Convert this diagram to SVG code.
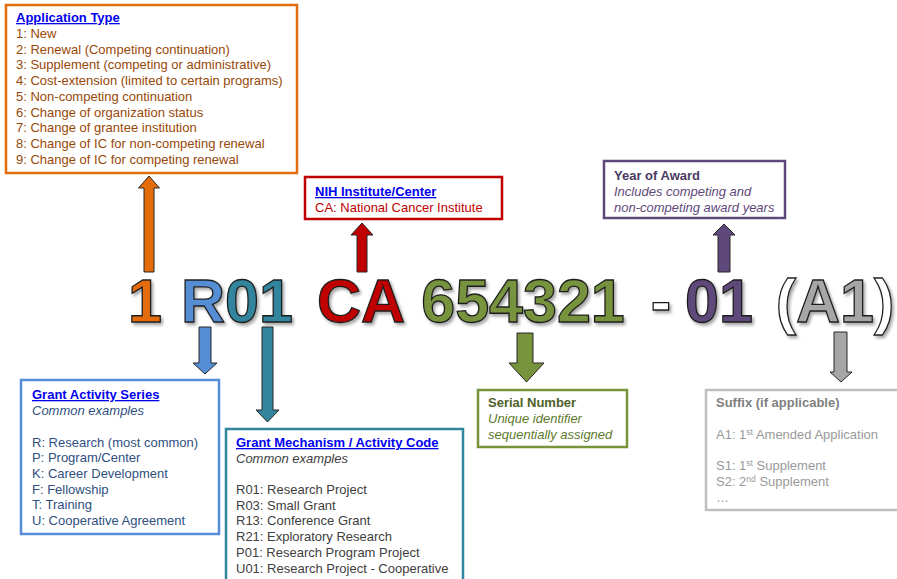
<svg xmlns="http://www.w3.org/2000/svg" width="897" height="579" viewBox="0 0 897 579">
<defs>
<filter id="sh" x="-10%" y="-10%" width="130%" height="140%">
<feDropShadow dx="2" dy="2.5" stdDeviation="1.5" flood-color="#000" flood-opacity="0.35"/>
</filter>
</defs>
<style>
text{font-family:"Liberation Sans",Arial,sans-serif;font-size:13px}
.box{fill:#fff;stroke-width:2.5}
.ttl{font-weight:bold;fill:#0000EE;text-decoration:underline}
.big{font-size:61px;font-weight:bold;stroke:#1f1f1f;stroke-width:1.3;text-anchor:middle}
.arr{stroke:#262626;stroke-width:1}
.it{font-style:italic}
</style>
<rect width="897" height="579" fill="#fff"/>

<g id="code" filter="url(#sh)">
<text class="big" x="145" y="322" fill="#E46C0A">1</text>
<text class="big" x="237" y="322"><tspan fill="#558ED5">R</tspan><tspan fill="#31859C">01</tspan></text>
<text class="big" x="361" y="322" fill="#C00000">CA</text>
<text class="big" x="523" y="322" fill="#77933C">654321</text>
<text class="big" x="661" y="322" fill="#fff">-</text>
<text class="big" x="719" y="322" fill="#5F497A">01</text>
<text class="big" x="835" y="322"><tspan fill="#fff">(</tspan><tspan fill="#A6A6A6">A1</tspan><tspan fill="#fff">)</tspan></text>
</g>

<g id="connectors">
<path class="arr" fill="#E46C0A" d="M149,176 L159.5,188 L154,188 L154,272 L144,272 L144,188 L138.5,188 Z"/>
<path class="arr" fill="#C00000" d="M362,223 L373,235 L367,235 L367,272 L357,272 L357,235 L351,235 Z"/>
<path class="arr" fill="#5F497A" d="M724,224 L735,235 L730,235 L730,272 L718,272 L718,235 L713,235 Z"/>
<path class="arr" fill="#558ED5" d="M205,374 L217,363 L211,363 L211,327 L199,327 L199,363 L193,363 Z"/>
<path class="arr" fill="#31859C" d="M267.5,422 L279,410 L273,410 L273,327 L262,327 L262,410 L256,410 Z"/>
<path class="arr" fill="#77933C" d="M526.5,382 L544,363 L533,363 L533,333 L517,333 L517,363 L509,363 Z"/>
<path class="arr" fill="#A6A6A6" d="M841,382 L852,372 L847,372 L847,332 L834,332 L834,372 L830,372 Z"/>
</g>

<g id="app-type">
<rect class="box" x="6" y="5" width="291" height="168" stroke="#E46C0A"/>
<text class="ttl" x="16" y="22">Application Type</text>
<g fill="#984807">
<text x="16" y="38">1: New</text>
<text x="16" y="53.7">2: Renewal (Competing continuation)</text>
<text x="16" y="69.4">3: Supplement (competing or administrative)</text>
<text x="16" y="85.1">4: Cost-extension (limited to certain programs)</text>
<text x="16" y="100.8">5: Non-competing continuation</text>
<text x="16" y="116.5">6: Change of organization status</text>
<text x="16" y="132.2">7: Change of grantee institution</text>
<text x="16" y="147.9">8: Change of IC for non-competing renewal</text>
<text x="16" y="163.6">9: Change of IC for competing renewal</text>
</g>
</g>

<g id="nih-ic">
<rect class="box" x="305" y="177" width="197" height="42" stroke="#C00000"/>
<text class="ttl" x="315" y="196">NIH Institute/Center</text>
<text x="315" y="212" fill="#C00000">CA: National Cancer Institute</text>
</g>

<g id="year">
<rect class="box" x="604" y="161" width="181" height="57" stroke="#5F497A"/>
<text x="614" y="180" font-weight="bold" fill="#4B3B63">Year of Award</text>
<text class="it" x="614" y="196" fill="#5F497A">Includes competing and</text>
<text class="it" x="614" y="212" fill="#5F497A">non-competing award years</text>
</g>

<g id="activity-series">
<rect class="box" x="21" y="380" width="198" height="154" stroke="#558ED5"/>
<text class="ttl" x="32" y="399">Grant Activity Series</text>
<g fill="#2F4F7F">
<text class="it" x="32" y="415">Common examples</text>
<text x="32" y="446.5">R: Research (most common)</text>
<text x="32" y="462.2">P: Program/Center</text>
<text x="32" y="477.9">K: Career Development</text>
<text x="32" y="493.6">F: Fellowship</text>
<text x="32" y="509.3">T: Training</text>
<text x="32" y="525">U: Cooperative Agreement</text>
</g>
</g>

<g id="mechanism">
<rect class="box" x="226" y="429" width="237" height="160" stroke="#31859C"/>
<text class="ttl" x="236" y="447">Grant Mechanism / Activity Code</text>
<g fill="#404040">
<text class="it" x="236" y="463">Common examples</text>
<text x="236" y="494">R01: Research Project</text>
<text x="236" y="509.7">R03: Small Grant</text>
<text x="236" y="525.4">R13: Conference Grant</text>
<text x="236" y="541.1">R21: Exploratory Research</text>
<text x="236" y="556.8">P01: Research Program Project</text>
<text x="236" y="572.5">U01: Research Project - Cooperative</text>
</g>
</g>

<g id="serial">
<rect class="box" x="478" y="390" width="149" height="57" stroke="#77933C"/>
<text x="488" y="407" font-weight="bold" fill="#4F6228">Serial Number</text>
<text class="it" x="488" y="423" fill="#5E7A2C">Unique identifier</text>
<text class="it" x="488" y="439" fill="#5E7A2C">sequentially assigned</text>
</g>

<g id="suffix">
<rect class="box" x="706" y="390" width="200" height="120" stroke="#BFBFBF"/>
<g fill="#9A9A9A">
<text x="716" y="407" font-weight="bold" fill="#808080">Suffix (if applicable)</text>
<text x="716" y="439">A1: 1<tspan font-size="8.5" dy="-4">st</tspan><tspan dy="4"> Amended Application</tspan></text>
<text x="716" y="470">S1: 1<tspan font-size="8.5" dy="-4">st</tspan><tspan dy="4"> Supplement</tspan></text>
<text x="716" y="486">S2: 2<tspan font-size="8.5" dy="-4">nd</tspan><tspan dy="4"> Supplement</tspan></text>
<text x="716" y="502">…</text>
</g>
</g>
</svg>
